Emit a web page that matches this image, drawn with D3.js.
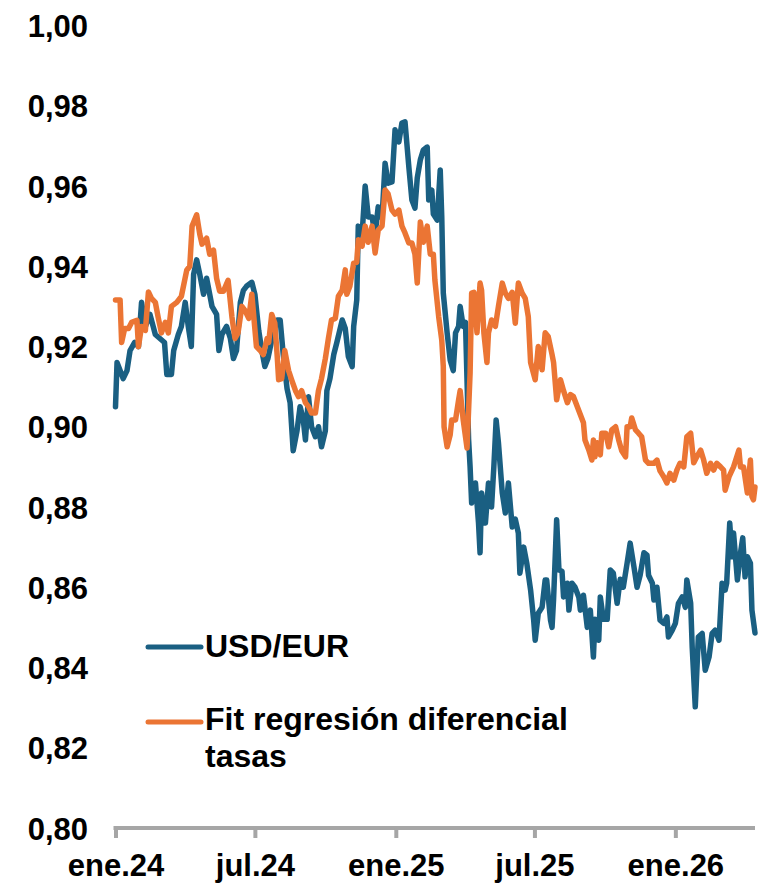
<!DOCTYPE html>
<html>
<head>
<meta charset="utf-8">
<script src="https://cdn.jsdelivr.net/npm/d3@7"></script>
<style>
  html, body { margin: 0; padding: 0; background: #fff; }
  svg { display: block; font-family: "Liberation Sans", Arial, Helvetica, sans-serif; }
</style>
</head>
<body>
<div id="chart"></div>
<script>
// ---------- DATA (days counted from 2024-01-01) ----------
const startDate = "2024-01-01";
const endDate = "2026-04-15";

const usdLabel = "USD/EUR";
const usdDays = [
  0,2,6,10,15,19,25,30,34,39,
  45,52,58,64,67,73,76,82,86,91,
  95,99,102,106,110,115,119,126,132,135,
  139,145,150,154,158,163,167,171,178,182,
  187,191,195,199,204,211,215,219,224,228,
  232,237,241,245,248,252,256,261,265,269,
  274,276,280,285,289,296,300,304,309,311,
  315,317,322,326,330,335,339,343,348,352,
  356,361,365,370,374,378,383,387,391,394,
  398,402,407,409,413,415,420,424,426,428,
  433,437,441,444,448,450,454,457,461,463,
  465,470,474,476,478,483,487,491,494,497,
  500,505,509,513,518,522,526,528,533,537,
  542,546,548,552,557,561,563,568,570,572,
  576,579,583,585,590,592,596,600,605,607,
  611,616,620,624,626,631,633,637,642,646,
  650,655,659,663,668,672,677,681,685,690,
  694,696,701,703,707,711,716,720,722,727,
  731,735,740,744,746,751,753,757,761,766,
  770,775,779,783,788,792,796,798,802,805,
  807,812,816,819,822,825,829,831,835
];
const usdValues = [
  .905,.916,.914,.912,.914,.919,.921,.920,.931,.925,
  .928,.923,.922,.921,.913,.913,.919,.923,.925,.931,
  .925,.920,.938,.9416,.938,.933,.937,.930,.928,.919,
  .923,.925,.922,.917,.919,.931,.934,.935,.936,.933,
  .924,.919,.915,.917,.9216,.9266,.9266,.918,.9095,.906,
  .894,.899,.905,.902,.8967,.9075,.900,.8975,.900,.895,
  .899,.909,.912,.918,.921,.9266,.9245,.9175,.915,.925,
  .9316,.95,.948,.96,.9523,.9523,.948,.9548,.952,.9657,
  .9607,.961,.974,.971,.9757,.976,.9648,.9565,.9545,.962,
  .9665,.969,.9697,.9565,.959,.953,.9515,.964,.9523,.9333,
  .9234,.9166,.914,.9234,.925,.93,.925,.926,.897,.89,
  .881,.886,.876,.8686,.8835,.876,.886,.880,.89,.9017,
  .896,.8835,.8785,.886,.875,.877,.8735,.8635,.870,.866,
  .8593,.8518,.8468,.8535,.855,.8618,.8618,.8518,.850,.857,
  .8768,.8643,.864,.8576,.861,.8543,.861,.860,.8575,.8543,
  .858,.850,.8543,.8426,.852,.8468,.8576,.852,.852,.8643,
  .8635,.856,.862,.860,.866,.871,.865,.860,.863,.8686,
  .868,.863,.861,.8568,.860,.8518,.851,.8526,.8476,.8493,
  .851,.856,.8576,.855,.8618,.856,.8451,.8302,.8476,.8485,
  .8393,.8426,.8485,.8493,.8468,.861,.8593,.861,.876,.8676,
  .8735,.8618,.8685,.8723,.8626,.8676,.866,.8543,.8486
];

const fitLabel = ["Fit regresión diferencial", "tasas"];
const fitDays = [
  0,6,8,12,17,21,28,30,34,39,
  43,47,52,56,60,65,69,73,80,86,
  93,97,100,106,110,113,119,123,128,132,
  136,141,147,152,156,160,165,169,174,178,
  184,189,193,198,200,204,208,211,213,217,
  221,226,230,235,239,243,248,252,256,261,
  265,269,274,278,282,287,291,296,300,302,
  306,311,315,317,322,326,330,335,339,343,
  348,352,356,361,365,370,374,378,383,387,
  391,394,398,402,407,411,415,417,422,426,
  428,429,433,437,439,444,448,450,454,459,
  463,465,468,472,476,478,481,485,487,491,
  496,500,505,509,513,518,522,526,531,535,
  539,542,548,552,557,561,565,570,572,576,
  581,585,590,594,598,605,611,613,618,622,
  624,626,629,633,635,640,644,648,653,657,
  661,666,668,672,674,679,683,687,692,696,
  703,707,711,716,720,724,729,733,737,742,
  746,751,755,759,764,768,772,777,781,785,
  790,794,796,801,807,814,816,820,825,829,
  831,833,835
];
const fitValues = [
  .9316,.9316,.921,.9245,.9245,.926,.9265,.920,.925,.924,
  .9336,.932,.931,.927,.9234,.926,.9234,.930,.931,.9325,
  .939,.940,.950,.9528,.948,.9455,.947,.943,.944,.937,
  .9338,.9338,.9365,.9274,.922,.9234,.930,.929,.927,.933,
  .920,.919,.918,.922,.921,.928,.9258,.918,.9117,.912,
  .919,.914,.9117,.909,.9075,.909,.906,.905,.9034,.9034,
  .909,.912,.917,.922,.9266,.927,.9325,.934,.9391,.933,
  .935,.9408,.941,.9466,.945,.95,.946,.95,.9433,.949,
  .950,.959,.958,.954,.953,.954,.950,.9483,.9458,.9458,
  .943,.9358,.951,.946,.950,.943,.943,.9366,.9274,.9216,
  .915,.900,.895,.898,.9017,.9017,.9067,.909,.9017,.8947,
  .9134,.9333,.9335,.9234,.9358,.934,.9234,.916,.9234,.9266,
  .925,.930,.9358,.9333,.932,.9335,.9258,.9358,.9333,.932,
  .9274,.916,.9117,.920,.9142,.9234,.9225,.918,.916,.9067,
  .9117,.909,.906,.908,.9075,.904,.901,.8967,.8942,.8917,
  .8967,.8925,.896,.893,.8984,.8984,.895,.8992,.900,.8967,
  .894,.8925,.900,.900,.9022,.8992,.8984,.8975,.8917,.8909,
  .8909,.8917,.889,.8875,.886,.8884,.8867,.8892,.8909,.890,
  .8975,.8984,.891,.8925,.8942,.8917,.8884,.8909,.8892,.8909,
  .890,.8892,.8842,.8875,.890,.8942,.890,.890,.8835,.8917,
  .8826,.8818,.885
];

const xTickDates = ["2024-01-01","2024-07-01","2025-01-01","2025-07-01","2026-01-01"];
const xTickLabels = ["ene.24","jul.24","ene.25","jul.25","ene.26"];
const yTicks = [0.80,0.82,0.84,0.86,0.88,0.90,0.92,0.94,0.96,0.98,1.00];

// ---------- CHART ----------
const W = 770, H = 886;
const blue = "#1a5f82", orange = "#eb7534", axisGray = "#a6a6a6";
const FONT = '"Liberation Sans", Arial, sans-serif';
const parse = d3.utcParse("%Y-%m-%d");
const t0 = parse(startDate);

const x = d3.scaleUtc().domain([t0, parse(endDate)]).range([115.5, 755]);
const y = d3.scaleLinear().domain([0.80, 1.00]).range([828, 25.5]);

const svg = d3.select("#chart").append("svg").attr("width", W).attr("height", H);

const locale = d3.formatLocale({decimal: ",", thousands: ".", grouping: [3], currency: ["", "€"]});
const fmt = locale.format(".2f");

// y axis labels (no line)
const yAxis = svg.append("g").attr("transform", "translate(88,0)")
  .call(d3.axisLeft(y).tickValues(yTicks).tickFormat(fmt).tickSize(0).tickPadding(0));
yAxis.select(".domain").remove();
yAxis.selectAll("text")
  .attr("font-size", 31).attr("font-weight", "bold").attr("fill", "#000")
  .attr("font-family", FONT)
  .attr("dy", "0.36em");

// x axis
const xAxis = svg.append("g").attr("transform", "translate(0,828)")
  .call(d3.axisBottom(x)
    .tickValues(xTickDates.map(parse))
    .tickFormat((d, i) => xTickLabels[i])
    .tickSizeInner(10).tickSizeOuter(0).tickPadding(0));
xAxis.select(".domain").attr("stroke", axisGray).attr("stroke-width", 4)
  .attr("d", `M${x.range()[0] - 2},0H${x.range()[1]}`);
xAxis.selectAll(".tick line").attr("stroke", axisGray).attr("stroke-width", 4);
xAxis.selectAll(".tick text")
  .attr("font-size", 31).attr("font-weight", "bold").attr("fill", "#000")
  .attr("font-family", FONT)
  .attr("y", 48).attr("dy", null);

// lines
const usdData = usdDays.map((d, i) => ({date: d3.utcDay.offset(t0, d), v: usdValues[i]}));
const fitData = fitDays.map((d, i) => ({date: d3.utcDay.offset(t0, d), v: fitValues[i]}));
const line = d3.line().x(d => x(d.date)).y(d => y(d.v));

svg.append("path").datum(usdData).attr("d", line)
  .attr("fill", "none").attr("stroke", blue).attr("stroke-width", 5.5)
  .attr("stroke-linejoin", "round").attr("stroke-linecap", "round");
svg.append("path").datum(fitData).attr("d", line)
  .attr("fill", "none").attr("stroke", orange).attr("stroke-width", 5.5)
  .attr("stroke-linejoin", "round").attr("stroke-linecap", "round");

// legend
const leg = svg.append("g").attr("font-size", 32).attr("font-weight", "bold").attr("fill", "#000")
  .attr("font-family", FONT);
leg.append("line").attr("x1", 148).attr("x2", 201).attr("y1", 647).attr("y2", 647)
  .attr("stroke", blue).attr("stroke-width", 5).attr("stroke-linecap", "round");
leg.append("text").attr("x", 205).attr("y", 657).text(usdLabel);
leg.append("line").attr("x1", 148).attr("x2", 201).attr("y1", 722).attr("y2", 722)
  .attr("stroke", orange).attr("stroke-width", 5).attr("stroke-linecap", "round");
leg.append("text").attr("x", 205).attr("y", 730).text(fitLabel[0]);
leg.append("text").attr("x", 205).attr("y", 767).text(fitLabel[1]);
</script>
</body>
</html>
